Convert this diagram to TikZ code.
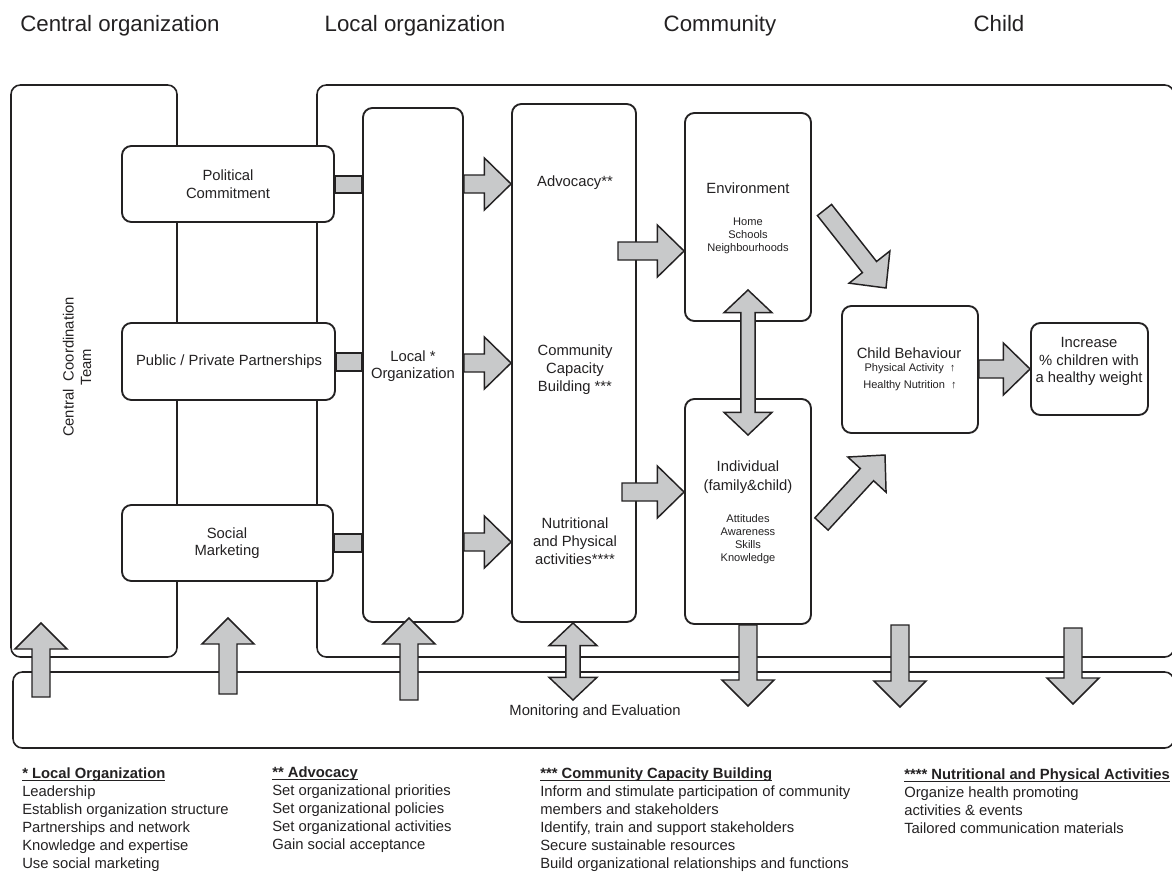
\documentclass[tikz,border=0pt]{standalone}
\usepackage{fontspec}
\setmainfont{Liberation Sans}
\usetikzlibrary{calc,fit}

\definecolor{ink}{RGB}{35,33,34}
\definecolor{arrowgray}{RGB}{200,201,202}

\newcommand\headsize{\fontsize{16.7}{20}\selectfont}
\newcommand\mainsize{\fontsize{11.1}{13.1}\selectfont}
\newcommand\smallsize{\fontsize{8.3}{9.8}\selectfont}
\newcommand\legendsize{\fontsize{11.1}{13.5}\selectfont}

% bold note title with a rule just under the baseline
\newsavebox\notebox
\newcommand\notetitle[1]{\sbox\notebox{\textbf{#1}}\rlap{\usebox\notebox}\rule[-1.7pt]{\wd\notebox}{0.8pt}}

% single block arrow from #2 to #3, head length #1
\newcommand\blockarrow[3][20pt]{%
  \coordinate (ba-h) at ($(#3)!#1!(#2)$);
  \draw[arrowbody] ($(#2)!6.75pt!90:(#3)$) -- ($(ba-h)!6.75pt!-90:(#2)$)
    -- ($(ba-h)!19.5pt!-90:(#2)$) -- (#3) -- ($(ba-h)!19.5pt!90:(#2)$)
    -- ($(ba-h)!6.75pt!90:(#2)$) -- ($(#2)!6.75pt!-90:(#3)$) -- cycle;
}
% double block arrow between #2 and #3, head length #1
\newcommand\doublearrow[3][17pt]{%
  \coordinate (da-h1) at ($(#2)!#1!(#3)$);
  \coordinate (da-h2) at ($(#3)!#1!(#2)$);
  \draw[arrowbody] (#2) -- ($(da-h1)!18pt!90:(#3)$) -- ($(da-h1)!5.4pt!90:(#3)$)
    -- ($(da-h2)!5.4pt!-90:(#2)$) -- ($(da-h2)!18pt!-90:(#2)$) -- (#3)
    -- ($(da-h2)!18pt!90:(#2)$) -- ($(da-h2)!5.4pt!90:(#2)$)
    -- ($(da-h1)!5.4pt!-90:(#3)$) -- ($(da-h1)!18pt!-90:(#3)$) -- cycle;
}

\tikzset{
  frame/.style={draw=ink, line width=1.2pt, rounded corners=7pt, inner sep=0pt, fill=white},
  box/.style={draw=ink, line width=1.4pt, rounded corners=7pt, inner sep=0pt, fill=white},
  arrowbody/.style={draw=ink, line width=1.1pt, fill=arrowgray, line join=miter},
  head/.style={inner sep=0pt, anchor=base, text=ink, font=\headsize},
  txt/.style={inner sep=0pt, align=center, text=ink, font=\mainsize},
  small/.style={inner sep=0pt, align=center, text=ink, font=\smallsize},
  legend/.style={inner sep=0pt, align=left, anchor=north west, text=ink, font=\legendsize},
}

\begin{document}
\begin{tikzpicture}[x=0.75pt,y=-0.75pt]
\useasboundingbox (0,0) rectangle (1172,874);

% column headings
\node[head] (hcen) at (120,32) {Central organization};
\node[head] (hloc) at (415,32) {Local organization};
\node[head] (hcom) at (720,32) {Community};
\node[head] (hchi) at (999,32) {Child};

% outer frames
\node[frame, fit={(11,85) (177,657)}] (cot) {};
\node[frame, fit={(317,85) (1174,657)}] (lot) {};
\node[frame, fit={(13,672) (1174,748)}] (me) {};
\node[txt] (metext) at (595,712) {Monitoring and Evaluation};

\node[txt, rotate=90] (cct) at (77,367) {Central\ \ Coordination\\Team};

% central organization boxes
\node[box, fit={(122,146) (334,222)}] (pc) {};
\node[txt] (pctext) at (228,184) {Political\\Commitment};
\node[box, fit={(122,323) (335,400)}] (ppp) {};
\node[txt] (ppptext) at (229,362) {Public / Private Partnerships};
\node[box, fit={(122,505) (333,581)}] (sm) {};
\node[txt] (smtext) at (227,543) {Social\\Marketing};

% local organization and its activities
\node[box, fit={(363,108) (463,622)}] (lo) {};
\node[txt] (lotext) at (413,366) {Local *\\Organization};
\node[box, fit={(512,104) (636,622)}] (cm) {};
\node[txt] (advtext) at (575,183) {Advocacy**};
\node[txt, font=\fontsize{11.1}{13.5}\selectfont] (cbtext) at (575,370) {Community\\Capacity\\Building ***};
\node[txt, font=\fontsize{11.1}{13.5}\selectfont] (nptext) at (575,541) {Nutritional\\and Physical\\activities****};

% community
\node[box, fit={(685,113) (811,321)}] (env) {};
\node[txt] (envtext) at (748,188) {Environment};
\node[small] (envlist) at (748,236) {Home\\Schools\\Neighbourhoods};
\node[box, fit={(685,399) (811,624)}] (ind) {};
\node[txt, font=\fontsize{11.1}{14.2}\selectfont] (indtext) at (748,477.5) {Individual\\(family\&child)};
\node[small] (indlist) at (748,539.5) {Attitudes\\Awareness\\Skills\\Knowledge};

% child
\node[box, fit={(842,306) (978,433)}] (cbh) {};
\node[txt] (cbhtext) at (909,353) {Child Behaviour};
\node[small] (cbhpa) at (910,369) {Physical Activity\ \ ↑};
\node[small] (cbhhn) at (910,386) {Healthy Nutrition\ \ ↑};
\node[box, fit={(1031,323) (1148,415)}] (inc) {};
\node[txt] (inctext) at (1089,361.5) {Increase\\\% children with\\a healthy weight};

% bars from central boxes to the local organization
\path (0,176) coordinate (b1t) (0,193) coordinate (b1b)
      (0,353) coordinate (b2t) (0,371) coordinate (b2b)
      (0,534) coordinate (b3t) (0,552) coordinate (b3b);
\draw[arrowbody] (pc.east |- b1t) rectangle (lo.west |- b1b);
\draw[arrowbody] (ppp.east |- b2t) rectangle (lo.west |- b2b);
\draw[arrowbody] (sm.east |- b3t) rectangle (lo.west |- b3b);

% local organization to activities
\path (0,184) coordinate (r1) (0,363) coordinate (r2) (0,542) coordinate (r3);
\path (lo.east |- r1) coordinate (a1s) (cm.west |- r1) coordinate (a1e)
      (lo.east |- r2) coordinate (a2s) (cm.west |- r2) coordinate (a2e)
      (lo.east |- r3) coordinate (a3s) (cm.west |- r3) coordinate (a3e);
\blockarrow{a1s}{a1e}
\blockarrow{a2s}{a2e}
\blockarrow{a3s}{a3e}

% activities to environment and individual
\path (618,251) coordinate (a4s) (env.west |- a4s) coordinate (a4e)
      (622,492) coordinate (a5s) (ind.west |- a5s) coordinate (a5e);
\blockarrow{a4s}{a4e}
\blockarrow{a5s}{a5e}

% environment <-> individual
\path (748,290) coordinate (d1s) (748,435) coordinate (d1e);
\doublearrow{d1s}{d1e}

% towards child behaviour
\path (824.5,210) coordinate (a6s) (886,288) coordinate (a6e)
      (821.5,524) coordinate (a7s) (885,455) coordinate (a7e);
\blockarrow{a6s}{a6e}
\blockarrow{a7s}{a7e}

% child behaviour to outcome
\path (cbh.east |- 0,369) coordinate (a8s) (inc.west |- 0,369) coordinate (a8e);
\blockarrow{a8s}{a8e}

% monitoring and evaluation links
\path (41,697) coordinate (u1s) (41,623) coordinate (u1e)
      (228,694) coordinate (u2s) (228,618) coordinate (u2e)
      (409,700) coordinate (u3s) (409,618) coordinate (u3e);
\blockarrow[19.5pt]{u1s}{u1e}
\blockarrow[19.5pt]{u2s}{u2e}
\blockarrow[19.5pt]{u3s}{u3e}
\path (573,623) coordinate (d2s) (573,700) coordinate (d2e);
\doublearrow{d2s}{d2e}
\path (ind.south) coordinate (w1s) (748,706) coordinate (w1e)
      (900,625) coordinate (w2s) (900,707) coordinate (w2e)
      (1073,628) coordinate (w3s) (1073,704) coordinate (w3e);
\blockarrow[19.5pt]{w1s}{w1e}
\blockarrow[19.5pt]{w2s}{w2e}
\blockarrow[19.5pt]{w3s}{w3e}

% notes
\node[legend] (n1) at (22,768) {\notetitle{* Local Organization}\\Leadership\\Establish organization structure\\Partnerships and network\\Knowledge and expertise\\Use social marketing};
\node[legend] (n2) at (272,767) {\notetitle{** Advocacy}\\Set organizational priorities\\Set organizational policies\\Set organizational activities\\Gain social acceptance};
\node[legend] (n3) at (540,768) {\notetitle{*** Community Capacity Building}\\Inform and stimulate participation of community\\members and stakeholders\\Identify, train and support stakeholders\\Secure sustainable resources\\Build organizational relationships and functions};
\node[legend] (n4) at (904,769) {\notetitle{**** Nutritional and Physical Activities}\\Organize health promoting\\activities \& events\\Tailored communication materials};

\end{tikzpicture}
\end{document}
